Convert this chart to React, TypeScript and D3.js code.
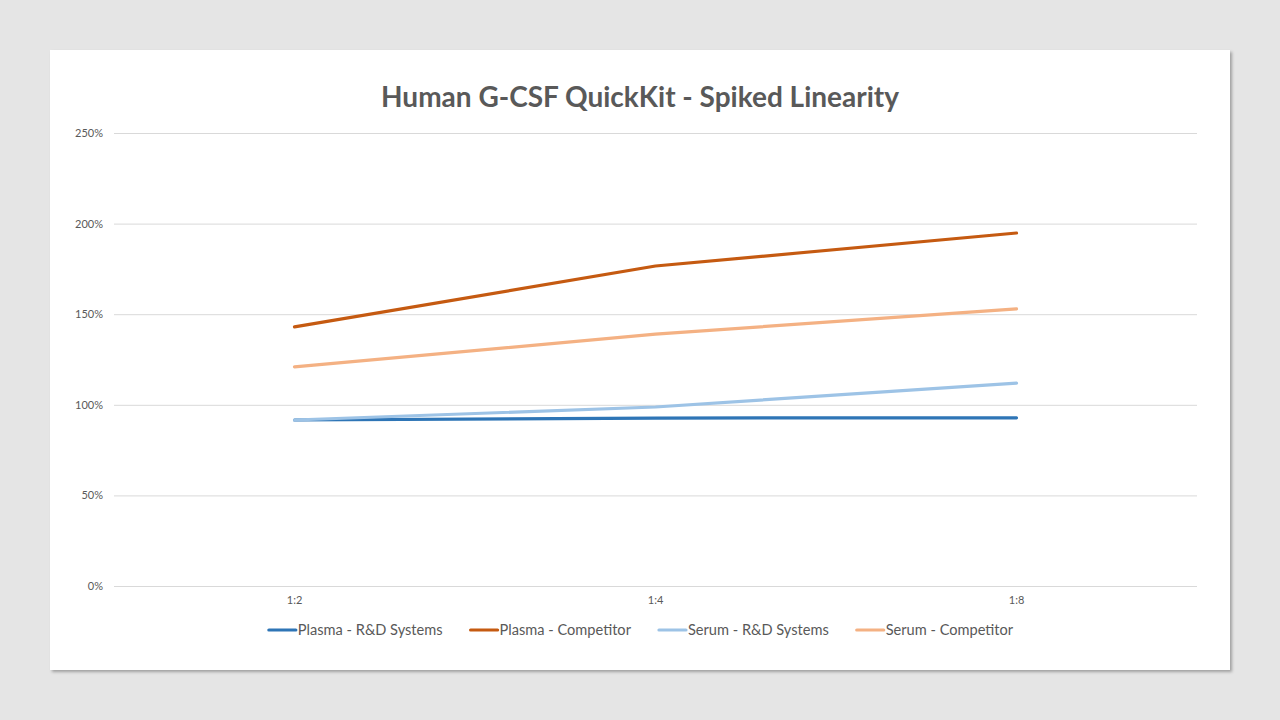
import React from "react";
import * as d3 from "d3";

const categories = ["1:2", "1:4", "1:8"];
const seriesNames = [
  "Plasma - R&D Systems",
  "Plasma - Competitor",
  "Serum - R&D Systems",
  "Serum - Competitor",
];
const plasmaRnd = [0.916, 0.927, 0.928];
const plasmaCompetitor = [1.43, 1.766, 1.948];
const serumRnd = [0.916, 0.988, 1.12];
const serumCompetitor = [1.209, 1.39, 1.529];
const yTicks = [0, 0.5, 1, 1.5, 2, 2.5];
const colors = ["#2E75B6", "#C55A11", "#9DC3E6", "#F4B183"];

const W = 1280;
const H = 720;
const card = { x: 50, y: 50, width: 1180, height: 620 };
const margin = { top: 133, right: 83, bottom: 134, left: 114 };
const FONT = "Lato, 'Open Sans', sans-serif";

function App() {
  const ref = React.useRef(null);

  React.useEffect(() => {
    const seriesValues = [plasmaRnd, plasmaCompetitor, serumRnd, serumCompetitor];
    const series = seriesNames.map((name, i) => ({
      name,
      color: colors[i],
      values: seriesValues[i],
    }));

    const x = d3
        .scaleBand()
        .domain(categories)
        .range([margin.left, W - margin.right]),
      y = d3
        .scaleLinear()
        .domain([0, 2.5])
        .range([H - margin.bottom, margin.top]),
      line = d3
        .line()
        .x((d, i) => x(categories[i]) + x.bandwidth() / 2)
        .y((d) => y(d));

    const svg = d3.select(ref.current);
    svg.selectAll("*").remove();

    const defs = svg.append("defs");
    const f = defs
      .append("filter")
      .attr("id", "shadow")
      .attr("x", "-5%")
      .attr("y", "-5%")
      .attr("width", "110%")
      .attr("height", "110%");
    f.append("feDropShadow")
      .attr("dx", 2)
      .attr("dy", 2)
      .attr("stdDeviation", 1.5)
      .attr("flood-color", "#000")
      .attr("flood-opacity", 0.3);

    svg.append("rect").attr("width", W).attr("height", H).attr("fill", "#e5e5e5");
    svg
      .append("rect")
      .attr("x", card.x)
      .attr("y", card.y)
      .attr("width", card.width)
      .attr("height", card.height)
      .attr("fill", "#fff")
      .attr("filter", "url(#shadow)");

    const centerX = card.x + card.width / 2;

    svg
      .append("text")
      .attr("x", centerX)
      .attr("y", 107)
      .attr("text-anchor", "middle")
      .attr("font-family", FONT)
      .attr("font-weight", "bold")
      .attr("font-size", 28)
      .attr("fill", "#595959")
      .text("Human G-CSF QuickKit - Spiked Linearity");

    // gridlines + y labels
    const yAxis = svg
      .append("g")
      .attr("transform", `translate(${margin.left},0)`)
      .call(
        d3
          .axisLeft(y)
          .tickValues(yTicks)
          .tickFormat(d3.format(".0%"))
          .tickSize(-(W - margin.left - margin.right))
          .tickPadding(11)
      );
    yAxis.select(".domain").remove();
    yAxis.selectAll(".tick line").attr("stroke", "#d9d9d9").attr("stroke-width", 1);
    yAxis
      .selectAll(".tick text")
      .attr("font-family", FONT)
      .attr("font-size", 11)
      .attr("fill", "#595959");

    const xAxis = svg
      .append("g")
      .attr("transform", `translate(0,${H - margin.bottom})`)
      .call(d3.axisBottom(x).tickSize(0).tickPadding(10));
    xAxis.select(".domain").remove();
    xAxis
      .selectAll(".tick text")
      .attr("font-family", FONT)
      .attr("font-size", 11)
      .attr("fill", "#595959");

    series.forEach((s) => {
      svg
        .append("path")
        .datum(s.values)
        .attr("fill", "none")
        .attr("stroke", s.color)
        .attr("stroke-width", 3.2)
        .attr("stroke-linejoin", "round")
        .attr("stroke-linecap", "round")
        .attr("d", line);
    });

    // legend
    const legend = svg.append("g");
    const items = series.map((s) => {
      const g = legend.append("g");
      g.append("line")
        .attr("x1", 0)
        .attr("x2", 27)
        .attr("y1", 0)
        .attr("y2", 0)
        .attr("stroke", s.color)
        .attr("stroke-width", 3.2)
        .attr("stroke-linecap", "round");
      const t = g
        .append("text")
        .attr("x", 29)
        .attr("y", 5)
        .attr("font-family", FONT)
        .attr("font-size", 14.6)
        .attr("fill", "#595959")
        .text(s.name);
      return { g, w: 29 + t.node().getComputedTextLength() };
    });
    const gap = 28;
    const total = d3.sum(items, (d) => d.w) + gap * (items.length - 1);
    let cx = centerX + 1 - total / 2;
    items.forEach((it) => {
      it.g.attr("transform", `translate(${cx},630)`);
      cx += it.w + gap;
    });
  }, []);

  return (
    <svg
      ref={ref}
      width={W}
      height={H}
      style={{ position: "fixed", left: 0, top: 0, display: "block" }}
    />
  );
}

export default App;
